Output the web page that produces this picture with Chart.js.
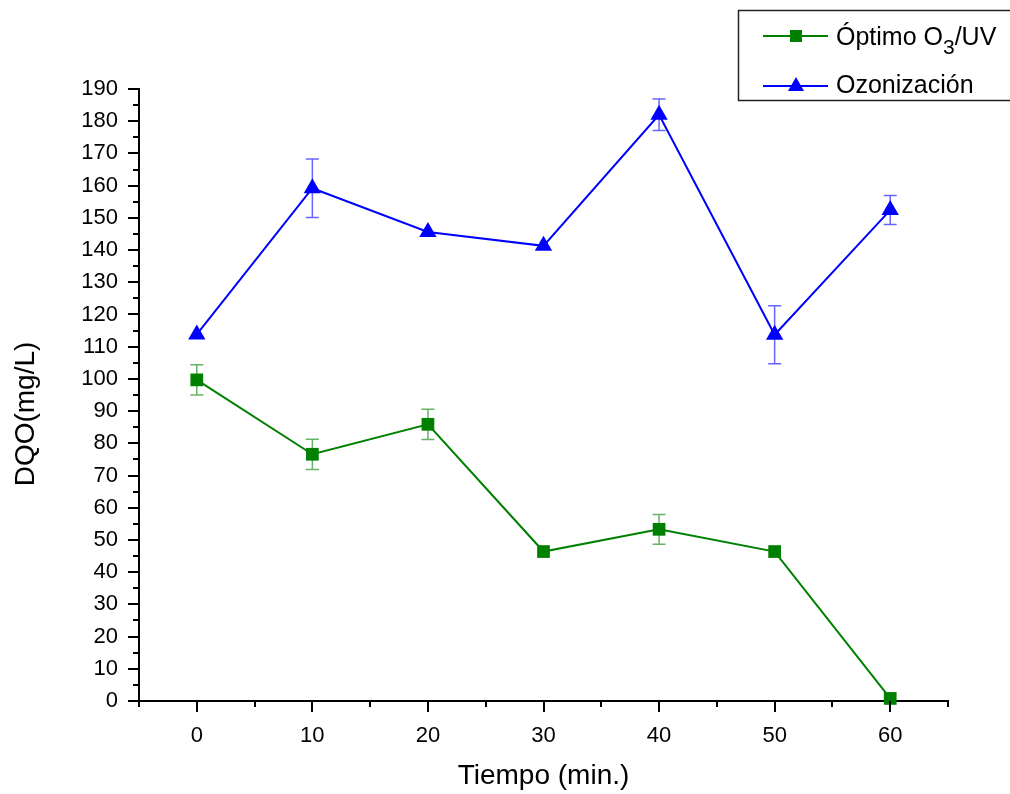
<!DOCTYPE html>
<html>
<head>
<meta charset="utf-8">
<title>DQO vs Tiempo</title>
<script src="https://cdn.jsdelivr.net/npm/chart.js@4.4.1/dist/chart.umd.min.js"></script>
<style>
  html, body { margin: 0; padding: 0; background: #fff; }
  #wrap { position: relative; width: 1010px; height: 794px; }
</style>
</head>
<body>
<div id="wrap"><canvas id="myChart" width="1010" height="794"></canvas></div>
<script>
// Data
const tiempo = [0, 10, 20, 30, 40, 50, 60]
const optimo = [99.7, 76.6, 85.9, 46.4, 53.3, 46.4, 0.8]
const optimoErr = [4.7, 4.7, 4.7, 0, 4.6, 0, 0]
const ozonizacion = [113.8, 159.2, 145.6, 141.3, 182.0, 113.7, 152.4]
const ozonizacionErr = [0, 9.1, 0, 0, 4.9, 9.0, 4.5]

const xTicks = [0, 10, 20, 30, 40, 50, 60]
const yTicks = [0, 10, 20, 30, 40, 50, 60, 70, 80, 90, 100, 110, 120, 130, 140, 150, 160, 170, 180, 190]

const FONT = '"Liberation Sans", Arial, sans-serif'
const GREEN = '#008000'
const BLUE = '#0000ff'

const toPoints = (ys) => tiempo.map((x, i) => ({ x: x, y: ys[i] }))

// error bars, drawn under the markers
const errorBars = {
  id: 'errorBars',
  beforeDatasetsDraw (chart) {
    const { ctx, scales: { x, y } } = chart
    const sets = [
      { vals: optimo, errs: optimoErr, color: 'rgba(0,128,0,0.6)' },
      { vals: ozonizacion, errs: ozonizacionErr, color: 'rgba(0,0,255,0.6)' }
    ]
    ctx.save()
    ctx.lineWidth = 1.5
    sets.forEach(s => {
      ctx.strokeStyle = s.color
      s.vals.forEach((v, i) => {
        const e = s.errs[i]
        if (!e) return
        const px = x.getPixelForValue(tiempo[i])
        const top = y.getPixelForValue(v + e)
        const bot = y.getPixelForValue(v - e)
        ctx.beginPath()
        ctx.moveTo(px, top); ctx.lineTo(px, bot)
        ctx.moveTo(px - 6.5, top); ctx.lineTo(px + 6.5, top)
        ctx.moveTo(px - 6.5, bot); ctx.lineTo(px + 6.5, bot)
        ctx.stroke()
      })
    })
    ctx.restore()
  }
}

// Origin style ticks (major + minor, outward), y title and legend box
const decorations = {
  id: 'decorations',
  afterDraw (chart) {
    const { ctx, chartArea, scales: { x, y } } = chart
    ctx.save()
    ctx.strokeStyle = '#000'
    ctx.lineWidth = 2
    ctx.beginPath()
    for (let v = x.min; v <= x.max + 0.01; v += 5) {
      const px = Math.round(x.getPixelForValue(v))
      const len = v % 10 === 0 ? 11 : 6
      ctx.moveTo(px, chartArea.bottom); ctx.lineTo(px, chartArea.bottom + len)
    }
    for (let v = y.min; v <= y.max + 0.01; v += 5) {
      const py = Math.round(y.getPixelForValue(v))
      const len = v % 10 === 0 ? 11 : 6
      ctx.moveTo(chartArea.left, py); ctx.lineTo(chartArea.left - len, py)
    }
    ctx.stroke()

    // y title
    ctx.fillStyle = '#000'
    ctx.font = '28px ' + FONT
    ctx.textAlign = 'center'
    ctx.textBaseline = 'middle'
    ctx.translate(26, 414)
    ctx.rotate(-Math.PI / 2)
    ctx.fillText('DQO(mg/L)', 0, 0)
    ctx.restore()

    // legend
    ctx.save()
    ctx.strokeStyle = '#222'
    ctx.lineWidth = 1.5
    ctx.strokeRect(738.5, 10.5, 290, 90)
    ctx.lineWidth = 2
    // row 1
    ctx.strokeStyle = GREEN
    ctx.beginPath(); ctx.moveTo(763, 36); ctx.lineTo(828, 36); ctx.stroke()
    ctx.fillStyle = GREEN
    ctx.fillRect(790, 30, 12, 12)
    // row 2
    ctx.strokeStyle = BLUE
    ctx.beginPath(); ctx.moveTo(763, 86); ctx.lineTo(828, 86); ctx.stroke()
    ctx.fillStyle = BLUE
    ctx.beginPath()
    ctx.moveTo(796, 77); ctx.lineTo(804, 91); ctx.lineTo(788, 91); ctx.closePath()
    ctx.fill()

    ctx.fillStyle = '#000'
    ctx.textAlign = 'left'
    ctx.textBaseline = 'middle'
    ctx.font = '25px ' + FONT
    let tx = 836
    ctx.fillText('Óptimo O', tx, 38)
    tx += ctx.measureText('Óptimo O').width
    ctx.font = '21px ' + FONT
    ctx.fillText('3', tx, 48)
    tx += ctx.measureText('3').width
    ctx.font = '25px ' + FONT
    ctx.fillText('/UV', tx, 38)
    ctx.fillText('Ozonización', 836, 86)
    ctx.restore()
  }
}

const ctx = document.getElementById('myChart')
const myChart = new Chart(ctx, {
  type: 'line',
  data: {
    datasets: [
      {
        label: 'Óptimo O3/UV',
        data: toPoints(optimo),
        borderColor: GREEN,
        backgroundColor: GREEN,
        borderWidth: 2,
        tension: 0,
        pointStyle: 'rect',
        pointRadius: 9,
        pointBorderWidth: 0,
        pointBackgroundColor: GREEN,
        clip: false
      },
      {
        label: 'Ozonización',
        data: toPoints(ozonizacion),
        borderColor: BLUE,
        backgroundColor: BLUE,
        borderWidth: 2,
        tension: 0,
        pointStyle: 'triangle',
        pointRadius: 10,
        pointBorderWidth: 0,
        pointBackgroundColor: BLUE,
        clip: false
      }
    ]
  },
  options: {
    responsive: false,
    animation: false,
    devicePixelRatio: 1,
    layout: { padding: { left: 0, top: 89, right: 62, bottom: 0 } },
    plugins: {
      legend: { display: false },
      tooltip: { enabled: false }
    },
    scales: {
      x: {
        type: 'linear',
        min: -5,
        max: 65,
        afterBuildTicks: (s) => { s.ticks = xTicks.map(v => ({ value: v })) },
        afterFit: (s) => { s.height = 93 },
        grid: { display: false, drawTicks: false },
        border: { display: true, color: '#000', width: 2 },
        ticks: {
          padding: 22,
          color: '#000',
          font: { family: FONT, size: 22 },
          maxRotation: 0
        },
        title: {
          display: true,
          text: 'Tiempo (min.)',
          color: '#000',
          font: { family: FONT, size: 28 },
          padding: { top: 0, bottom: 1 }
        }
      },
      y: {
        min: 0,
        max: 190,
        afterBuildTicks: (s) => { s.ticks = yTicks.map(v => ({ value: v })) },
        afterFit: (s) => { s.width = 139 },
        grid: { display: false, drawTicks: false },
        border: { display: true, color: '#000', width: 2 },
        ticks: {
          padding: 21,
          color: '#000',
          font: { family: FONT, size: 22 }
        }
      }
    }
  },
  plugins: [errorBars, decorations]
})
</script>
</body>
</html>
